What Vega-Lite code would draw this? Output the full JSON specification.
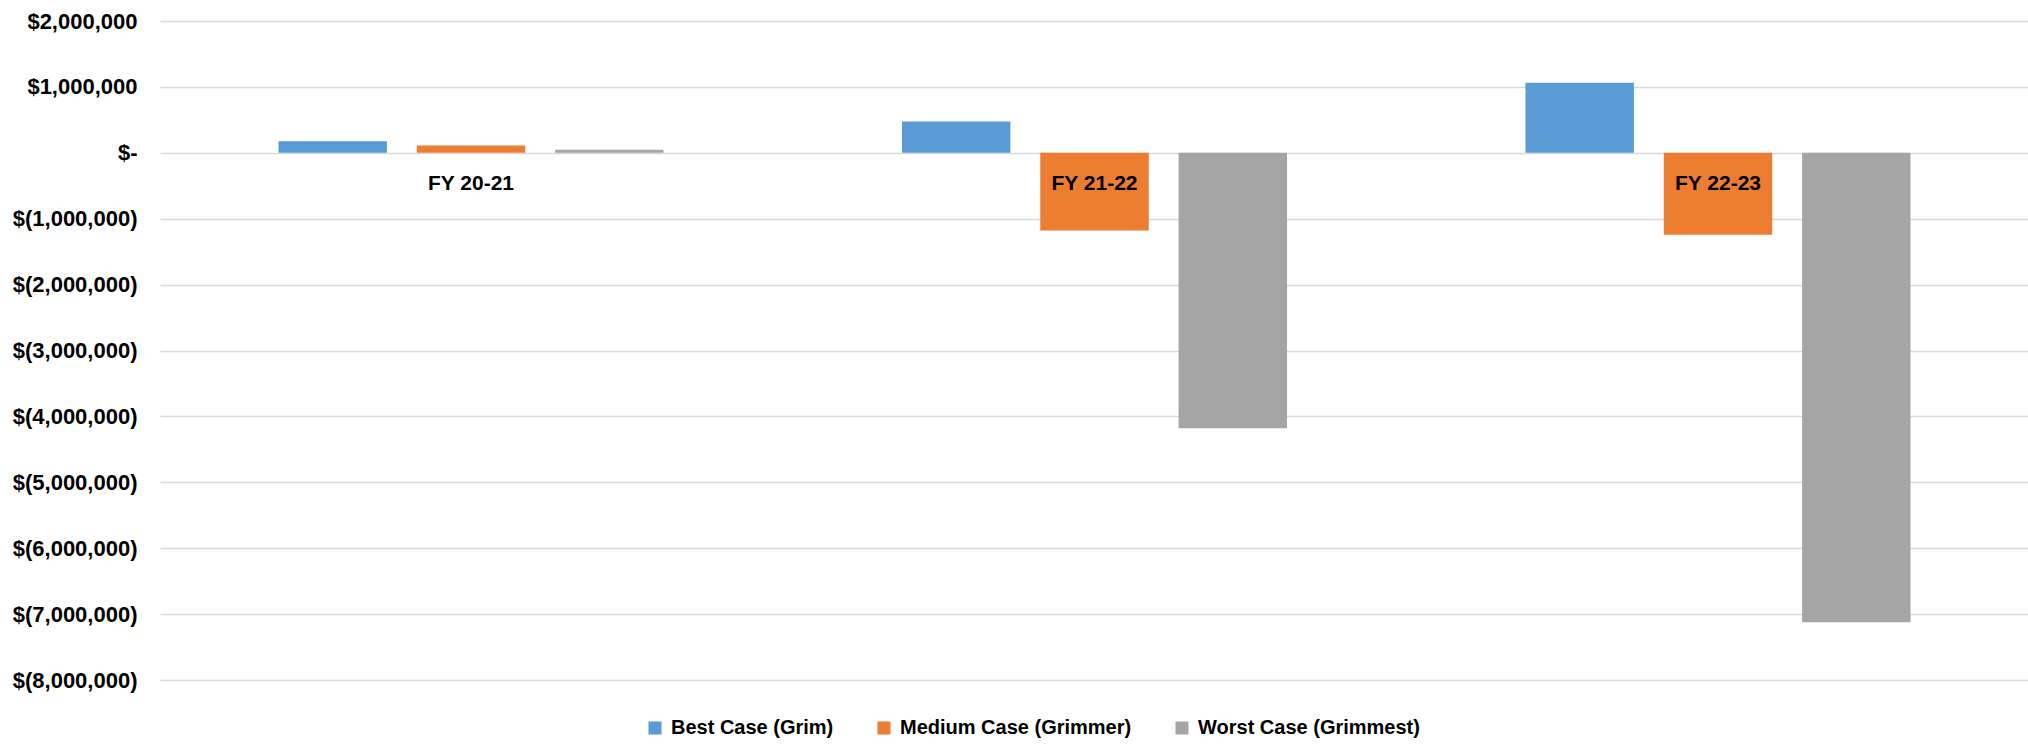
{
  "$schema": "https://vega.github.io/schema/vega-lite/v6.json",
  "width": 1869,
  "height": 659,
  "padding": {"left": 12, "top": 10, "right": 0, "bottom": 0},
  "background": "white",
  "config": {
    "view": {"stroke": null},
    "font": "Liberation Sans"
  },
  "datasets": {
    "bars": [
      {"year": "FY 20-21", "scenario": "Best Case (Grim)", "value": 176000},
      {"year": "FY 20-21", "scenario": "Medium Case (Grimmer)", "value": 111000},
      {"year": "FY 20-21", "scenario": "Worst Case (Grimmest)", "value": 46000},
      {"year": "FY 21-22", "scenario": "Best Case (Grim)", "value": 475000},
      {"year": "FY 21-22", "scenario": "Medium Case (Grimmer)", "value": -1179000},
      {"year": "FY 21-22", "scenario": "Worst Case (Grimmest)", "value": -4180000},
      {"year": "FY 22-23", "scenario": "Best Case (Grim)", "value": 1063000},
      {"year": "FY 22-23", "scenario": "Medium Case (Grimmer)", "value": -1245000},
      {"year": "FY 22-23", "scenario": "Worst Case (Grimmest)", "value": -7122000}
    ],
    "labels": [
      {"year": "FY 20-21"},
      {"year": "FY 21-22"},
      {"year": "FY 22-23"}
    ]
  },
  "layer": [
    {
      "data": {"name": "bars"},
      "mark": {"type": "bar"},
      "encoding": {
        "x": {
          "field": "year", "type": "nominal", "sort": ["FY 20-21", "FY 21-22", "FY 22-23"],
          "scale": {"paddingInner": 0.3824, "paddingOuter": 0.19},
          "axis": null
        },
        "xOffset": {
          "field": "scenario", "type": "nominal",
          "sort": ["Best Case (Grim)", "Medium Case (Grimmer)", "Worst Case (Grimmest)"],
          "scale": {"paddingInner": 0.216, "paddingOuter": 0}
        },
        "y": {
          "field": "value", "type": "quantitative",
          "scale": {"domain": [-8000000, 2000000], "nice": false, "zero": false},
          "axis": {
            "title": null,
            "values": [-8000000, -7000000, -6000000, -5000000, -4000000, -3000000, -2000000, -1000000, 0, 1000000, 2000000],
            "grid": true,
            "gridColor": "#d9d9d9",
            "gridWidth": 1.5,
            "domain": false,
            "ticks": false,
            "labelFont": "Liberation Sans",
            "labelFontWeight": "bold",
            "labelFontSize": 22,
            "labelColor": "#000000",
            "labelPadding": 23,
            "labelExpr": "datum.value == 0 ? '$-   ' : (datum.value > 0 ? '$' + format(datum.value, ',') + ' ' : '$(' + format(-datum.value, ',') + ')')"
          }
        },
        "color": {
          "field": "scenario", "type": "nominal",
          "sort": ["Best Case (Grim)", "Medium Case (Grimmer)", "Worst Case (Grimmest)"],
          "scale": {"range": ["#5B9BD5", "#ED7D31", "#A5A5A5"]},
          "legend": {
            "title": null,
            "orient": "none",
            "legendX": 485,
            "legendY": 697,
            "padding": 0,
            "direction": "horizontal",
            "symbolType": "square",
            "symbolSize": 170,
            "symbolStrokeWidth": 0,
            "labelFont": "Liberation Sans",
            "labelFontWeight": "bold",
            "labelFontSize": 20,
            "labelLimit": 0,
            "labelColor": "#000000",
            "labelOffset": 6,
            "columnPadding": 40
          }
        }
      }
    },
    {
      "data": {"name": "labels"},
      "mark": {"type": "text", "font": "Liberation Sans", "fontWeight": "bold", "fontSize": 21, "color": "#000000", "dy": 31, "baseline": "middle", "align": "center"},
      "encoding": {
        "x": {"field": "year", "type": "nominal", "sort": ["FY 20-21", "FY 21-22", "FY 22-23"]},
        "y": {"datum": 0, "type": "quantitative"},
        "text": {"field": "year"}
      }
    }
  ]
}
